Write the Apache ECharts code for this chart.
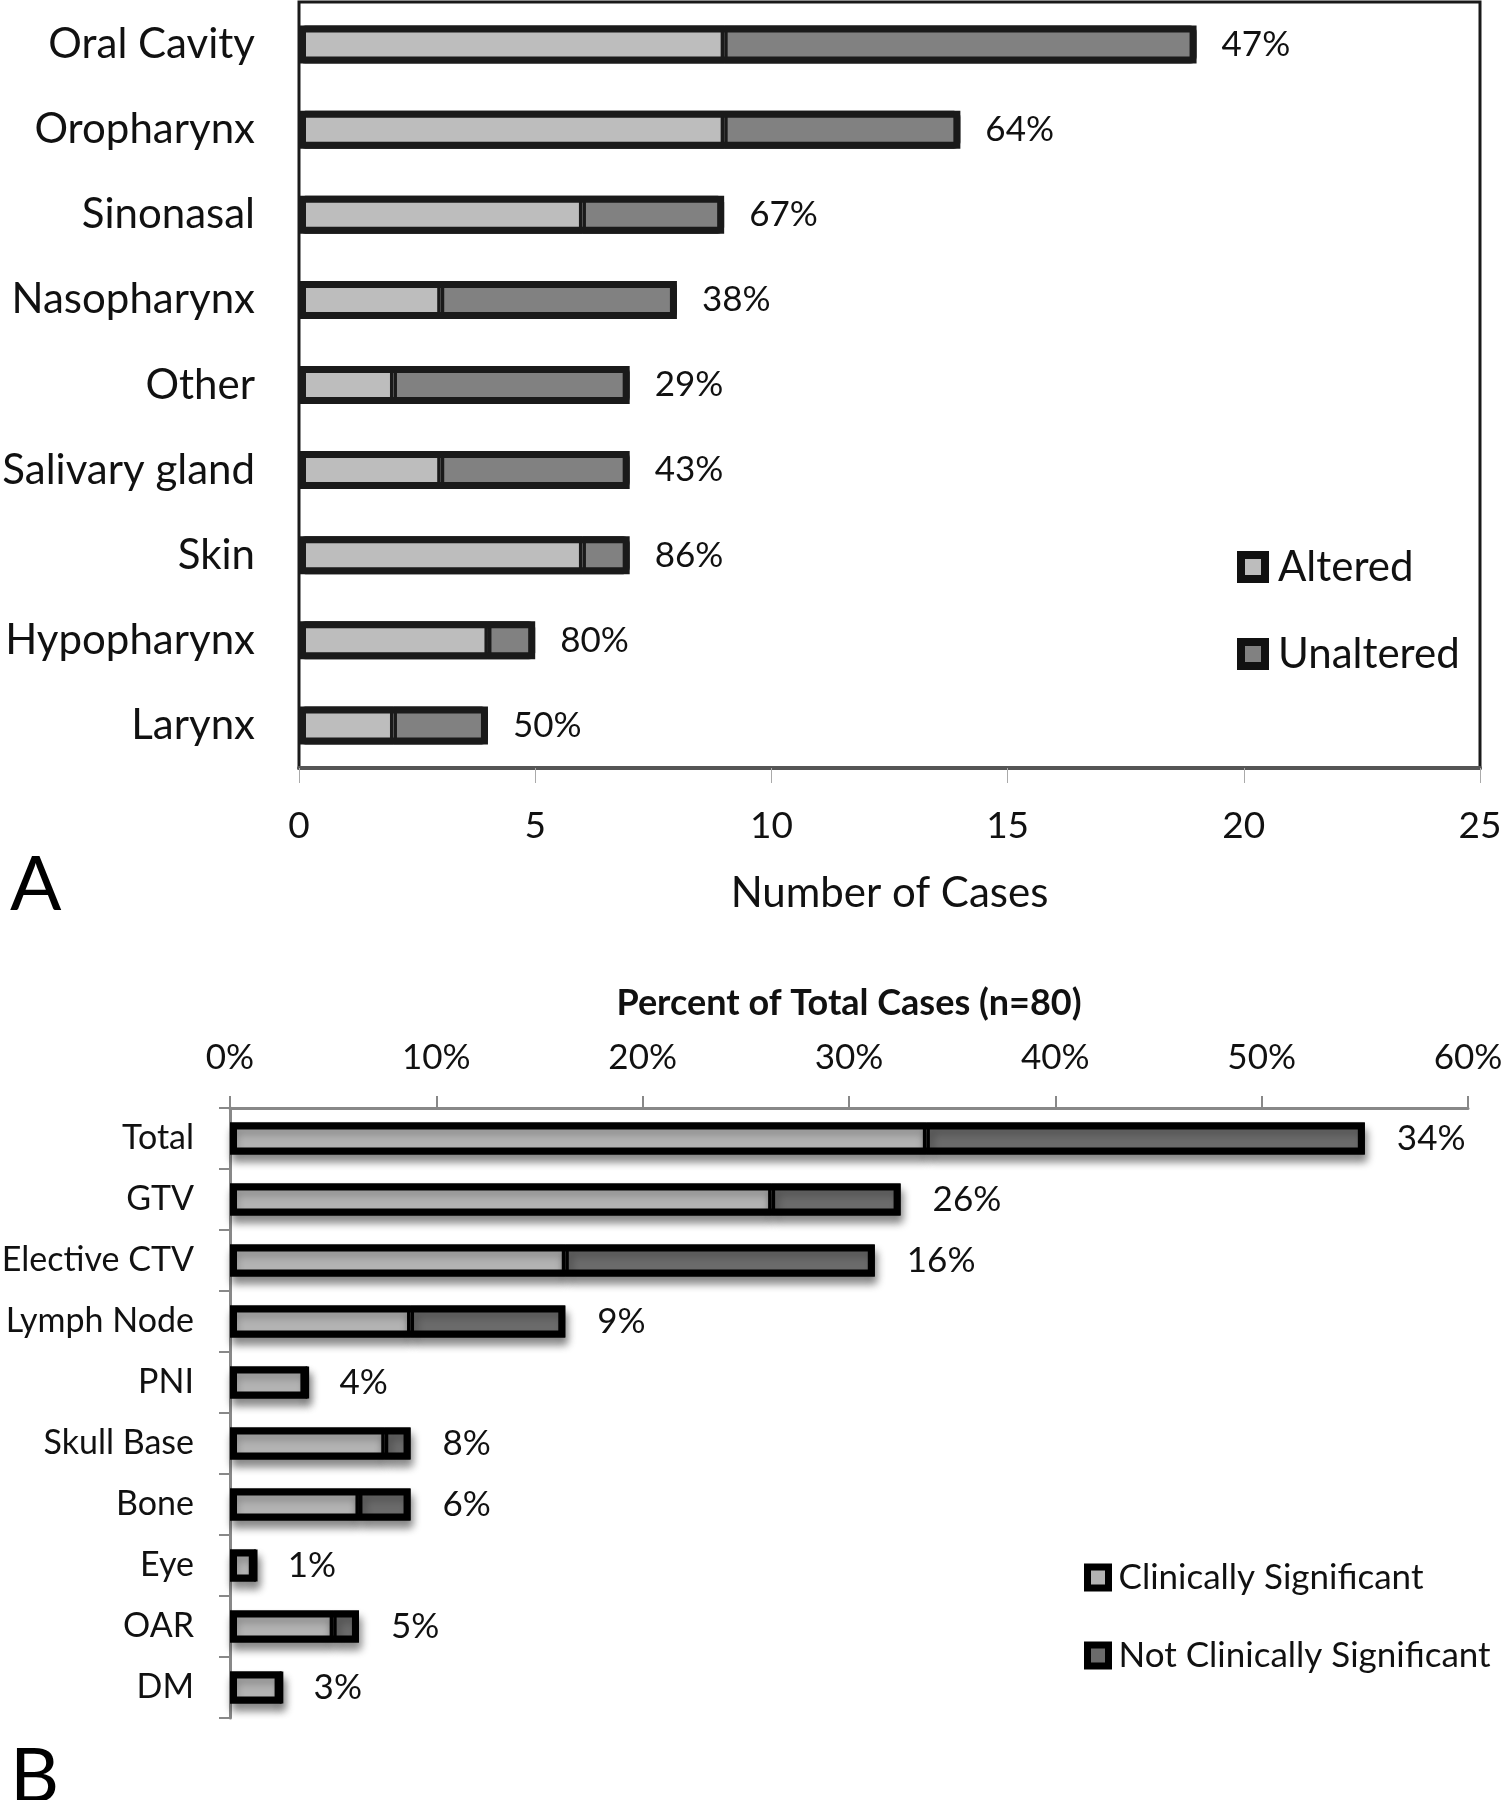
<!DOCTYPE html>
<html><head><meta charset="utf-8">
<script src="https://cdn.jsdelivr.net/npm/echarts/dist/echarts.min.js"></script>
<style>html,body{margin:0;padding:0;background:#fff}#c{width:1502px;height:1800px}</style>
</head><body><div id="c"></div>
<script>
// ---- Panel A data ----
const catsA = ['Oral Cavity','Oropharynx','Sinonasal','Nasopharynx','Other','Salivary gland','Skin','Hypopharynx','Larynx'];
const alteredA = [9, 9, 6, 3, 2, 3, 6, 4, 2];
const unalteredA = [10, 5, 3, 5, 5, 4, 1, 1, 2];
const pctLabelsA = ['47%','64%','67%','38%','29%','43%','86%','80%','50%'];
const ticksA = {min: 0, max: 25, interval: 5};

// ---- Panel B data (percent of 80 cases) ----
const catsB = ['Total','GTV','Elective CTV','Lymph Node','PNI','Skull Base','Bone','Eye','OAR','DM'];
const sigB = [33.75, 26.25, 16.25, 8.75, 3.75, 7.5, 6.25, 1.25, 5, 2.5];
const notSigB = [21.25, 6.25, 15, 7.5, 0, 1.25, 2.5, 0, 1.25, 0];
const pctLabelsB = ['34%','26%','16%','9%','4%','8%','6%','1%','5%','3%'];
const ticksB = {min: 0, max: 60, interval: 10};

// stacked totals (used only to draw the thick outline around each stacked bar)
const totalA = alteredA.map((v, i) => v + unalteredA[i]);
const totalB = sigB.map((v, i) => v + notSigB[i]);

const FONT = 'Lato';
const chart = echarts.init(document.getElementById('c'), null, {renderer: 'canvas'});
const shadow = {shadowColor: 'rgba(0,0,0,0.45)', shadowBlur: 8, shadowOffsetX: 2, shadowOffsetY: 7};
const option = {
  animation: false,
  backgroundColor: '#fff',
  textStyle: {fontFamily: FONT},
  grid: [
    {left: 299, top: 2, width: 1181, height: 766, show: true, borderColor: '#1a1a1a', borderWidth: 3,
     backgroundColor: 'transparent', containLabel: false, outerBoundsMode: 'none'},
    {left: 230, top: 1108, width: 1238, height: 610, containLabel: false, outerBoundsMode: 'none'}
  ],
  xAxis: [
    {gridIndex: 0, type: 'value', min: ticksA.min, max: ticksA.max, interval: ticksA.interval, position: 'bottom',
     axisLine: {show: true, lineStyle: {color: '#555', width: 4}},
     axisTick: {show: true, length: 15, lineStyle: {color: '#aaa', width: 1}},
     axisLabel: {fontSize: 37, color: '#111', margin: 40, fontFamily: FONT},
     splitLine: {show: false},
     name: 'Number of Cases', nameLocation: 'middle', nameGap: 104,
     nameTextStyle: {fontSize: 42, color: '#111', fontFamily: FONT}},
    {gridIndex: 1, type: 'value', min: ticksB.min, max: ticksB.max, interval: ticksB.interval, position: 'top',
     axisLine: {show: true, lineStyle: {color: '#888', width: 3}},
     axisTick: {show: true, length: 12, lineStyle: {color: '#888', width: 2}},
     axisLabel: {fontSize: 35, color: '#111', margin: 33, formatter: '{value}%', fontFamily: FONT},
     splitLine: {show: false},
     name: 'Percent of Total Cases (n=80)', nameLocation: 'middle', nameGap: 87,
     nameTextStyle: {fontSize: 36, fontWeight: 'bold', color: '#111', fontFamily: FONT}}
  ],
  yAxis: [
    {gridIndex: 0, type: 'category', inverse: true, data: catsA,
     axisLine: {show: false}, axisTick: {show: false},
     axisLabel: {fontSize: 42, color: '#111', margin: 44, fontFamily: FONT}},
    {gridIndex: 1, type: 'category', inverse: true, data: catsB,
     axisLine: {show: true, lineStyle: {color: '#888', width: 3}},
     axisTick: {show: true, length: 11, lineStyle: {color: '#888', width: 2}},
     axisLabel: {fontSize: 34, color: '#111', margin: 36, fontFamily: FONT}}
  ],
  legend: [
    {data: ['Altered', 'Unaltered'], orient: 'vertical', left: 1237, top: 546, padding: 0,
     itemWidth: 24, itemHeight: 24, itemGap: 45, icon: 'rect',
     itemStyle: {borderColor: '#111', borderWidth: 8, shadowBlur: 0, shadowColor: 'transparent'},
     textStyle: {fontSize: 42, color: '#111', fontFamily: FONT, padding: [0, 0, 0, 8]}},
    {data: ['Clinically Significant', 'Not Clinically Significant'], orient: 'vertical', left: 1084, top: 1560, padding: 0,
     itemWidth: 21, itemHeight: 21, itemGap: 43, icon: 'rect',
     itemStyle: {borderColor: '#000', borderWidth: 7, shadowBlur: 0, shadowColor: 'transparent'},
     textStyle: {fontSize: 35, color: '#111', fontFamily: FONT, padding: [0, 0, 0, 5]}}
  ],
  series: [
    {name: 'Altered', type: 'bar', xAxisIndex: 0, yAxisIndex: 0, stack: 'a', data: alteredA, barWidth: 38, barGap: '-100%',
     itemStyle: {color: '#bdbdbd', borderColor: '#1a1a1a', borderWidth: 3.5}},
    {name: 'Unaltered', type: 'bar', xAxisIndex: 0, yAxisIndex: 0, stack: 'a', data: unalteredA, barWidth: 38, barGap: '-100%',
     itemStyle: {color: '#818181', borderColor: '#1a1a1a', borderWidth: 3.5}},
    {name: 'outlineA', type: 'bar', xAxisIndex: 0, yAxisIndex: 0, data: totalA, barWidth: 38, barGap: '-100%', silent: true,
     itemStyle: {color: 'transparent', borderColor: '#1a1a1a', borderWidth: 7, borderRadius: 3},
     label: {show: true, position: 'right', distance: 25, fontSize: 35, color: '#111', fontFamily: FONT,
             formatter: p => pctLabelsA[p.dataIndex]}},
    {name: 'Clinically Significant', type: 'bar', xAxisIndex: 1, yAxisIndex: 1, stack: 'b', data: sigB, barWidth: 32, barGap: '-100%',
     itemStyle: Object.assign({color: '#b3b3b3', borderColor: '#000', borderWidth: 3.5}, shadow)},
    {name: 'Not Clinically Significant', type: 'bar', xAxisIndex: 1, yAxisIndex: 1, stack: 'b', data: notSigB, barWidth: 32, barGap: '-100%',
     itemStyle: Object.assign({color: '#6b6b6b', borderColor: '#000', borderWidth: 3.5}, shadow)},
    {name: 'outlineB', type: 'bar', xAxisIndex: 1, yAxisIndex: 1, data: totalB, barWidth: 32, barGap: '-100%', silent: true,
     itemStyle: {color: 'transparent', borderColor: '#000', borderWidth: 7},
     label: {show: true, position: 'right', distance: 32, fontSize: 35, color: '#111', fontFamily: FONT,
             formatter: p => pctLabelsB[p.dataIndex]}}
  ],
  graphic: [
    {type: 'text', x: 10, y: 885, style: {text: 'A', fontSize: 76, fill: '#000', fontFamily: FONT, verticalAlign: 'middle'}},
    {type: 'text', x: 10, y: 1777, style: {text: 'B', fontSize: 76, fill: '#000', fontFamily: FONT, verticalAlign: 'middle'}}
  ]
};
chart.setOption(option);
</script>
</body></html>
